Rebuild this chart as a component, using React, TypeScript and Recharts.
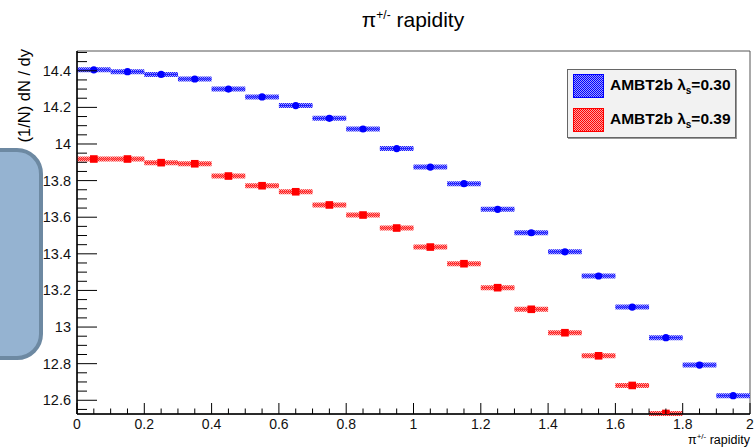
import React from 'react';
import { ScatterChart, Scatter, XAxis, YAxis, ErrorBar, ReferenceArea } from 'recharts';

// bin centres (pi rapidity), each bin is 0.1 wide
const binCenters = [0.05, 0.15, 0.25, 0.35, 0.45, 0.55, 0.65, 0.75, 0.85, 0.95, 1.05, 1.15, 1.25, 1.35, 1.45, 1.55, 1.65, 1.75, 1.85, 1.95];
const binHalfWidth = 0.05;

// AMBT2b lambda_s = 0.30
const blueValues = [14.405, 14.395, 14.38, 14.355, 14.3, 14.257, 14.21, 14.14, 14.082, 13.975, 13.874, 13.783, 13.643, 13.515, 13.411, 13.279, 13.109, 12.942, 12.792, 12.625];
// AMBT2b lambda_s = 0.39 (last two bins fall below the frame)
const redValues = [13.918, 13.918, 13.898, 13.892, 13.825, 13.772, 13.739, 13.667, 13.612, 13.541, 13.437, 13.346, 13.215, 13.097, 12.969, 12.843, 12.681, 12.528];

const xTicks = [0, 0.05, 0.1, 0.15, 0.2, 0.25, 0.3, 0.35, 0.4, 0.45, 0.5, 0.55, 0.6, 0.65, 0.7, 0.75, 0.8, 0.85, 0.9, 0.95, 1, 1.05, 1.1, 1.15, 1.2, 1.25, 1.3, 1.35, 1.4, 1.45, 1.5, 1.55, 1.6, 1.65, 1.7, 1.75, 1.8, 1.85, 1.9, 1.95, 2];
const yTicks = [12.55, 12.6, 12.65, 12.7, 12.75, 12.8, 12.85, 12.9, 12.95, 13, 13.05, 13.1, 13.15, 13.2, 13.25, 13.3, 13.35, 13.4, 13.45, 13.5, 13.55, 13.6, 13.65, 13.7, 13.75, 13.8, 13.85, 13.9, 13.95, 14, 14.05, 14.1, 14.15, 14.2, 14.25, 14.3, 14.35, 14.4, 14.45, 14.5];

const X_DOMAIN = [0, 2];
const Y_DOMAIN = [12.525, 14.508];

const FONT = '"Liberation Sans", Arial, sans-serif';

const blueData = blueValues.map((v, i) => ({ x: binCenters[i], y: v, ex: binHalfWidth }));
const redData = redValues.map((v, i) => ({ x: binCenters[i], y: v, ex: binHalfWidth }));

const isMajor = (v: number) => Math.abs(v * 5 - Math.round(v * 5)) < 1e-6;
const fmt = (v: number) => String(Math.round(v * 10) / 10);

const YTick = ({ x, y, payload }: any) => {
  const major = isMajor(payload.value);
  return (
    <g>
      <line x1={x} x2={x + (major ? 20 : 10)} y1={y} y2={y} stroke="#000" />
      {major && (
        <text x={x - 6} y={y} dy={5} textAnchor="end" fontSize={14.5} fontFamily={FONT} fill="#111">
          {fmt(payload.value)}
        </text>
      )}
    </g>
  );
};

const XTick = ({ x, y, payload }: any) => {
  const major = isMajor(payload.value);
  return (
    <g>
      <line x1={x} x2={x} y1={y} y2={y - (major ? 11 : 5.5)} stroke="#000" />
      {major && (
        <text x={x} y={y} dy={15} textAnchor="middle" fontSize={14} fontFamily={FONT} fill="#111">
          {fmt(payload.value)}
        </text>
      )}
    </g>
  );
};

const Dot = ({ cx, cy }: any) => <circle cx={cx} cy={cy} r={3.6} fill="#0000ff" />;
const Square = ({ cx, cy }: any) => <rect x={cx - 3.8} y={cy - 3.8} width={7.6} height={7.6} fill="#ff0000" />;

const swatch = (dark: string, light: string): React.CSSProperties => ({
  position: 'absolute',
  left: 5,
  width: 31,
  height: 24,
  boxSizing: 'border-box',
  border: `1px solid ${dark}`,
  background: `repeating-conic-gradient(${dark} 0 25%, ${light} 0 50%) 0 0 / 2px 2px`,
});

const LegendRow = ({ top, dark, light, label }: any) => (
  <div style={{ position: 'absolute', top, left: 0, width: '100%', height: 24 }}>
    <div style={swatch(dark, light)} />
    <div style={{ position: 'absolute', left: 42, top: 2, fontSize: 15.5, fontWeight: 'bold', fontFamily: FONT, whiteSpace: 'nowrap', color: '#000' }}>
      AMBT2b λ<sub style={{ fontSize: 10 }}>s</sub>={label}
    </div>
  </div>
);

export default function App() {
  return (
    <div style={{ position: 'absolute', left: 0, top: 0, width: 754, height: 448, overflow: 'hidden', background: '#fff', fontFamily: FONT }}>
      <ScatterChart width={754} height={448} margin={{ top: 51, right: 4, bottom: 0, left: 7 }}>
        <defs>
          <pattern id="hatchBlue" width={2} height={2} patternUnits="userSpaceOnUse">
            <rect width={2} height={2} fill="#a8a8ff" />
            <rect width={1} height={1} fill="#1a1aff" />
            <rect x={1} y={1} width={1} height={1} fill="#1a1aff" />
          </pattern>
          <pattern id="hatchRed" width={2} height={2} patternUnits="userSpaceOnUse">
            <rect width={2} height={2} fill="#ffb0b0" />
            <rect width={1} height={1} fill="#ff2020" />
            <rect x={1} y={1} width={1} height={1} fill="#ff2020" />
          </pattern>
        </defs>
        <XAxis
          type="number"
          dataKey="x"
          domain={X_DOMAIN}
          ticks={xTicks}
          interval={0}
          allowDataOverflow
          height={34}
          tickSize={0}
          tickMargin={0}
          tick={<XTick />}
          axisLine={{ stroke: '#000', strokeWidth: 1.5 }}
        />
        <YAxis
          type="number"
          dataKey="y"
          domain={Y_DOMAIN}
          ticks={yTicks}
          interval={0}
          allowDataOverflow
          width={70}
          tickSize={0}
          tickMargin={0}
          tick={<YTick />}
          axisLine={{ stroke: '#000', strokeWidth: 1.5 }}
        />
        <ReferenceArea x1={X_DOMAIN[0]} x2={X_DOMAIN[1]} y1={Y_DOMAIN[0]} y2={Y_DOMAIN[1]} fill="none" stroke="#555" strokeWidth={1} />
        <Scatter data={blueData} shape={<Dot />} isAnimationActive={false}>
          <ErrorBar dataKey="ex" direction="x" width={0} stroke="url(#hatchBlue)" strokeWidth={5} isAnimationActive={false} />
          <ErrorBar dataKey="ex" direction="x" width={0} stroke="#2020ff" strokeWidth={1} isAnimationActive={false} />
        </Scatter>
        <Scatter data={redData} shape={<Square />} isAnimationActive={false}>
          <ErrorBar dataKey="ex" direction="x" width={0} stroke="url(#hatchRed)" strokeWidth={5} isAnimationActive={false} />
          <ErrorBar dataKey="ex" direction="x" width={0} stroke="#ff3030" strokeWidth={1} isAnimationActive={false} />
        </Scatter>
      </ScatterChart>

      {/* title */}
      <div style={{ position: 'absolute', left: 0, width: 826, top: 8, textAlign: 'center', fontSize: 21, color: '#000' }}>
        π<sup style={{ fontSize: 12 }}>+/-</sup> rapidity
      </div>

      {/* y axis title */}
      <div style={{ position: 'absolute', left: -41, top: 104, width: 130, height: 20, lineHeight: '20px', textAlign: 'right', fontSize: 16.5, transform: 'rotate(-90deg)', whiteSpace: 'nowrap', color: '#000' }}>
        (1/N) dN / dy
      </div>

      {/* x axis title */}
      <div style={{ position: 'absolute', right: 4, top: 433, fontSize: 12.5, lineHeight: '13px', whiteSpace: 'nowrap', color: '#000' }}>
        π<sup style={{ fontSize: 8, lineHeight: '8px' }}>+/-</sup> rapidity
      </div>

      {/* legend */}
      <div style={{ position: 'absolute', left: 567, top: 69, width: 169, height: 69, boxSizing: 'border-box', background: '#f2f2f2', border: '1px solid #666', boxShadow: '1px 1px 0 #999' }}>
        <LegendRow top={4} dark="#0000ff" light="#9c9cff" label="0.30" />
        <LegendRow top={38} dark="#ff0000" light="#ffa0a0" label="0.39" />
      </div>

      {/* rounded shape overlapping the left edge */}
      <div style={{ position: 'absolute', left: -40, top: 148, width: 83, height: 212, boxSizing: 'border-box', background: '#95b3d1', border: '4px solid #6d89a2', borderRadius: 26 }} />
    </div>
  );
}
